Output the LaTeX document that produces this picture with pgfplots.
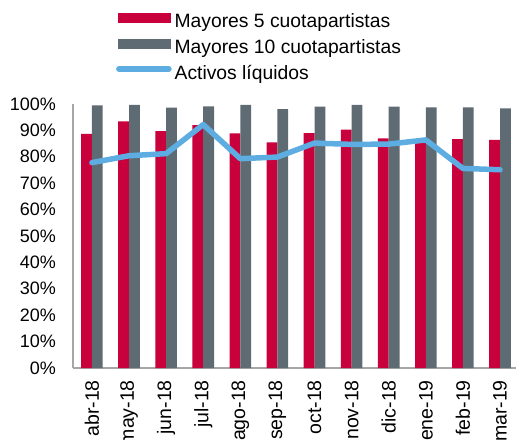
\documentclass[border=0pt]{standalone}
\usepackage{fontspec}
\setmainfont{Liberation Sans}
\usepackage{pgfplots}
\pgfplotsset{compat=1.18}
\definecolor{cred}{RGB}{200,0,60}
\definecolor{cgrey}{RGB}{95,107,115}
\definecolor{cblue}{RGB}{93,173,226}
\definecolor{caxis}{RGB}{166,166,166}
\newcommand{\cfont}{\fontsize{18bp}{21bp}\selectfont}
\newcommand{\xfont}{\fontsize{19.5bp}{22bp}\selectfont}
\newcommand{\lfont}{\fontsize{19.3bp}{22bp}\selectfont}
\begin{document}
\begin{tikzpicture}
\begin{axis}[
  scale only axis, width=442.6bp, height=264bp,
  xmin=-0.51, xmax=11.42, ymin=0, ymax=100,
  axis x line*=bottom, axis y line*=left,
  axis line style={draw=caxis, line width=1.2bp},
  major tick length=0pt,
  xtick={0,...,11},
  xticklabels={abr-18,may-18,jun-18,jul-18,ago-18,sep-18,oct-18,nov-18,dic-18,ene-19,feb-19,mar-19},
  ytick={0,10,...,100},
  yticklabels={0\%,10\%,20\%,30\%,40\%,50\%,60\%,70\%,80\%,90\%,100\%},
  yticklabel style={font=\cfont, anchor=east, inner sep=0pt},
  xticklabel style={font=\xfont, rotate=90, anchor=east, inner sep=0pt},
  xticklabel shift=12bp, yticklabel shift=17bp,
  legend style={draw=none, fill=none, at={(0.097,1.347)}, anchor=north west,
    font=\lfont, inner sep=0pt, row sep=5bp,
    nodes={text height=13bp, text depth=4bp, inner sep=2bp},
    /tikz/every odd column/.append style={column sep=1bp}},
  legend cell align=left,
]
\addplot[ybar, bar width=10.8bp, bar shift=-5.4bp, fill=cred, draw=none,
  legend image code/.code={\fill[cred] (0bp,0bp) rectangle (53bp,10bp);}]
  coordinates {(0,88.7) (1,93.4) (2,89.7) (3,92.0) (4,88.9) (5,85.5) (6,89.0) (7,90.3) (8,87.0) (9,86.5) (10,86.7) (11,86.4)};
\addlegendentry{Mayores 5 cuotapartistas}
\addplot[ybar, bar width=10.8bp, bar shift=5.4bp, fill=cgrey, draw=none,
  legend image code/.code={\fill[cgrey] (0bp,0bp) rectangle (53bp,10bp);}]
  coordinates {(0,99.5) (1,99.7) (2,98.6) (3,99.1) (4,99.7) (5,98.1) (6,99.0) (7,99.7) (8,99.0) (9,98.7) (10,98.7) (11,98.3)};
\addlegendentry{Mayores 10 cuotapartistas}
\addplot[cblue, line width=5.5bp, line join=round, line cap=round, mark=none,
  legend image code/.code={\draw[cblue, line width=5.5bp, line cap=round] (1bp,6bp) -- (51bp,6bp);}]
  coordinates {(0,77.8) (1,80.4) (2,81.2) (3,92.2) (4,79.3) (5,79.9) (6,85.2) (7,84.7) (8,84.8) (9,86.4) (10,75.6) (11,75.1)};
\addlegendentry{Activos líquidos}
\end{axis}
\pgfresetboundingbox
\path[use as bounding box] (-73bp,-72bp) rectangle (443bp,368bp);
\end{tikzpicture}
\end{document}
